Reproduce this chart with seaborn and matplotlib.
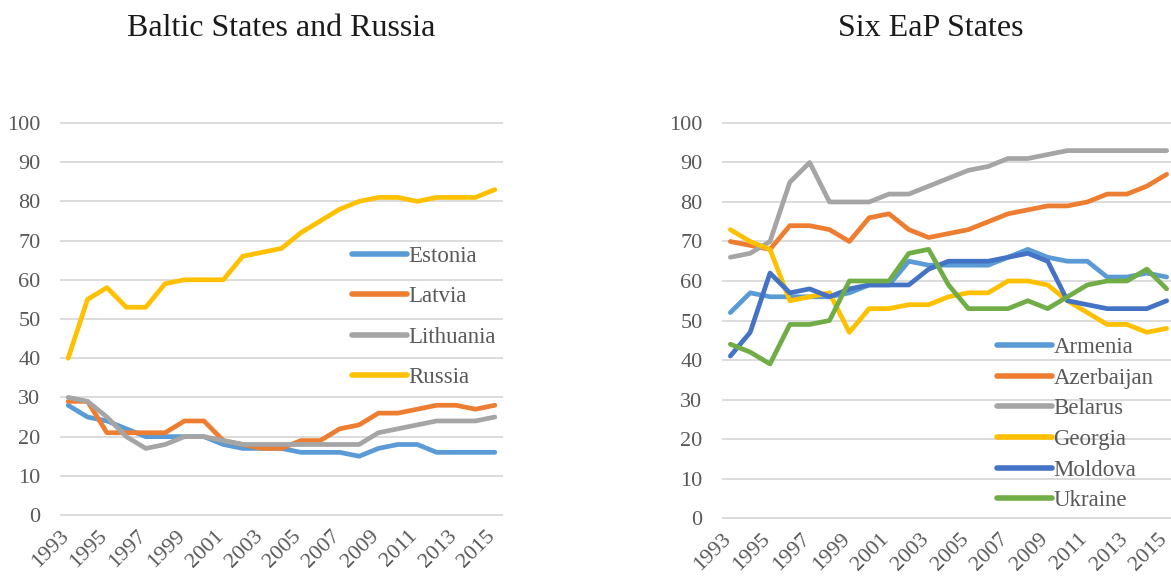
import pandas as pd
import matplotlib.pyplot as plt
import matplotlib.transforms as mtransforms
import seaborn as sns

# Data
years = list(range(1993, 2016))

baltic_names = ['Estonia', 'Latvia', 'Lithuania', 'Russia']
estonia = [28, 25, 24, 22, 20, 20, 20, 20, 18, 17, 17, 17, 16, 16, 16, 15, 17, 18, 18, 16, 16, 16, 16]
latvia = [29, 29, 21, 21, 21, 21, 24, 24, 19, 18, 17, 17, 19, 19, 22, 23, 26, 26, 27, 28, 28, 27, 28]
lithuania = [30, 29, 25, 20, 17, 18, 20, 20, 19, 18, 18, 18, 18, 18, 18, 18, 21, 22, 23, 24, 24, 24, 25]
russia = [40, 55, 58, 53, 53, 59, 60, 60, 60, 66, 67, 68, 72, 75, 78, 80, 81, 81, 80, 81, 81, 81, 83]

eap_names = ['Armenia', 'Azerbaijan', 'Belarus', 'Georgia', 'Moldova', 'Ukraine']
armenia = [52, 57, 56, 56, 56, 56, 57, 59, 59, 65, 64, 64, 64, 64, 66, 68, 66, 65, 65, 61, 61, 62, 61]
azerbaijan = [70, 69, 68, 74, 74, 73, 70, 76, 77, 73, 71, 72, 73, 75, 77, 78, 79, 79, 80, 82, 82, 84, 87]
belarus = [66, 67, 70, 85, 90, 80, 80, 80, 82, 82, 84, 86, 88, 89, 91, 91, 92, 93, 93, 93, 93, 93, 93]
georgia = [73, 70, 68, 55, 56, 57, 47, 53, 53, 54, 54, 56, 57, 57, 60, 60, 59, 55, 52, 49, 49, 47, 48]
moldova = [41, 47, 62, 57, 58, 56, 58, 59, 59, 59, 63, 65, 65, 65, 66, 67, 65, 55, 54, 53, 53, 53, 55]
ukraine = [44, 42, 39, 49, 49, 50, 60, 60, 60, 67, 68, 59, 53, 53, 53, 55, 53, 56, 59, 60, 60, 63, 58]

baltic_colors = ['#5B9BD5', '#ED7D31', '#A5A5A5', '#FFC000']
eap_colors = ['#5B9BD5', '#ED7D31', '#A5A5A5', '#FFC000', '#4472C4', '#70AD47']


def to_long(names, series):
    rows = []
    for name, vals in zip(names, series):
        for y, v in zip(years, vals):
            rows.append({'year': y, 'value': v, 'country': name})
    return pd.DataFrame(rows)


baltic = to_long(baltic_names, [estonia, latvia, lithuania, russia])
eap = to_long(eap_names, [armenia, azerbaijan, belarus, georgia, moldova, ukraine])

sns.set_style('white')
plt.rcParams['font.family'] = ['Liberation Serif', 'DejaVu Serif']

W, H = 1171, 579
fig = plt.figure(figsize=(W / 100, H / 100), dpi=100)


def px_axes(x0, x1, ytop, ybot):
    return fig.add_axes([x0 / W, 1 - ybot / H, (x1 - x0) / W, (ybot - ytop) / H])


ax1 = px_axes(60, 503, 119, 519)
ax2 = px_axes(722, 1175, 119, 522)

text_col = '#595959'
# Excel puts rotated year labels a little left of the tick
shift = mtransforms.ScaledTranslation(-9 / 100, 2 / 100, fig.dpi_scale_trans)

for ax, df, names, cols, leg_xy, spacing in [
    (ax1, baltic, baltic_names, baltic_colors, (343, 317), 0.85),
    (ax2, eap, eap_names, eap_colors, (988, 424), 0.42),
]:
    sns.lineplot(data=df, x='year', y='value', hue='country', hue_order=names,
                 palette=cols, linewidth=3.4, ax=ax, legend=True)
    ax.set_xlim(1992.58, 2015.42)
    ax.set_ylim(-1, 101)
    ax.set_yticks(range(0, 101, 10))
    ax.set_xticks(years[::2])
    ax.set_xticklabels([str(y) for y in years[::2]], rotation=45, ha='right',
                       rotation_mode='anchor')
    ax.tick_params(axis='both', length=0, labelsize=16, labelcolor=text_col)
    ax.tick_params(axis='y', pad=14)
    ax.tick_params(axis='x', pad=7)
    for lbl in ax.get_xticklabels():
        lbl.set_transform(lbl.get_transform() + shift)
    ax.grid(axis='y', color='#D9D9D9', linewidth=1.3)
    ax.set_axisbelow(True)
    for s in ax.spines.values():
        s.set_visible(False)
    ax.set_xlabel('')
    ax.set_ylabel('')
    handles, labels = ax.get_legend_handles_labels()
    ax.legend(handles, labels, loc='center left',
              bbox_to_anchor=(leg_xy[0] / W, 1 - leg_xy[1] / H),
              bbox_transform=fig.transFigure, frameon=False,
              fontsize=16.5, labelcolor=text_col, handlelength=2.4,
              handletextpad=0.05, labelspacing=spacing, borderaxespad=0)
    for line in ax.get_legend().get_lines():
        line.set_linewidth(4)
        line.set_solid_capstyle('round')

fig.text(281 / W, 1 - 29 / H, 'Baltic States and Russia', ha='center', va='center',
         fontsize=23, color='#1a1a1a')
fig.text(931 / W, 1 - 29 / H, 'Six EaP States', ha='center', va='center',
         fontsize=23, color='#1a1a1a')

fig.savefig('out.png', dpi=100)
